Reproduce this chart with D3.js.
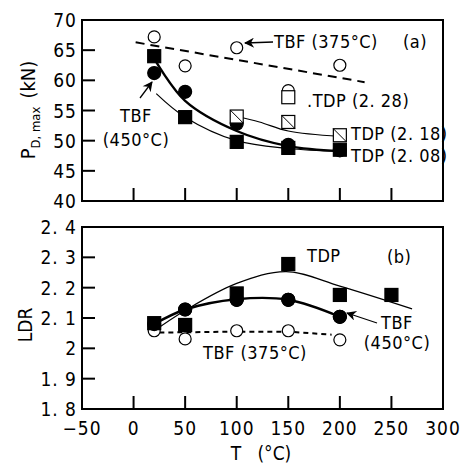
<!doctype html>
<html>
<head>
<meta charset="utf-8">
<title>PD,max and LDR vs T</title>
<script src="https://cdnjs.cloudflare.com/ajax/libs/d3/7.8.5/d3.min.js"></script>
<style>
  body { margin: 0; background: #fff; }
  text { font-family: "Liberation Sans Narrow", "DejaVu Sans Condensed", sans-serif; fill: #000; }
</style>
</head>
<body>
<div id="chart"></div>
<script>
// ---- data: panel (a) P_D,max (kN)
const tA = [20, 50, 100, 150, 200];
const tbf375AT = [20, 50, 100, 200];
const tbf375A = [67.2, 62.4, 65.4, 62.5];           // open circles
const tbf450A = [61.2, 58.1, 52.8, 49.3, 48.4];     // filled circles
const tdp208A = [64.0, 53.9, 49.8, 48.8, 48.5];     // filled squares
const tdp218AT = [100, 150, 200];
const tdp218A = [54.0, 53.1, 50.9];                 // hatched squares
const tdp228AT = [150];
const tdp228A = [57.2];                             // open square
const tdp228cA = [58.3];                            // open circle over it
// fitted curves (a)
const fitTbf375A = [[2, 66.3], [224, 59.7]];
const fitTbf450A = [[20, 63.6], [50, 56.6], [100, 51.6], [150, 49.1], [200, 48.3]];
const fitTdp208A = [[22, 57.8], [50, 53.9], [100, 50.0], [150, 48.7], [200, 48.2]];
const fitTdp218A = [[100, 54.0], [122, 53.1], [150, 51.6], [200, 50.7]];

// ---- data: panel (b) LDR
const tdpBT = [20, 50, 100, 150, 200, 250];
const tdpB = [2.083, 2.077, 2.181, 2.278, 2.176, 2.176];
const tbf450B = [2.08, 2.128, 2.16, 2.16, 2.104];
const tbf375B = [2.058, 2.031, 2.058, 2.058, 2.028];
const fitTdpB = [[20, 2.058], [50, 2.125], [100, 2.214], [148, 2.253], [200, 2.205], [270, 2.13]];
const fitTbf450B = [[20, 2.08], [50, 2.128], [100, 2.162], [150, 2.16], [200, 2.104]];
const fitTbf375B = [[25, 2.052], [100, 2.055], [150, 2.055], [192, 2.045]];

// ---- ticks
const xTicks = [-50, 0, 50, 100, 150, 200, 250, 300];
const yTicksA = [40, 45, 50, 55, 60, 65, 70];
const yTicksB = [1.8, 1.9, 2.0, 2.1, 2.2, 2.3, 2.4];

const W = 465, H = 468;
const svg = d3.select('#chart').append('svg').attr('width', W).attr('height', H);

const x = d3.scaleLinear().domain([-50, 300]).range([82, 443]);
const yA = d3.scaleLinear().domain([40, 70]).range([201, 20]);
const yB = d3.scaleLinear().domain([1.8, 2.4]).range([409, 227]);

const fmtB = d => d === 2 ? '2' : d3.format('.1f')(d).replace('.', '. ');

const defs = svg.append('defs');
defs.append('marker').attr('id', 'arrow').attr('viewBox', '0 0 10 10')
  .attr('refX', 9).attr('refY', 5).attr('markerWidth', 12).attr('markerHeight', 10)
  .attr('markerUnits', 'userSpaceOnUse').attr('orient', 'auto')
  .append('path').attr('d', 'M0,0 L10,5 L0,10 L3,5 Z').attr('fill', '#000');

function panel(y, yTicks, fmt) {
  const g = svg.append('g');
  g.append('rect').attr('x', 82).attr('y', y.range()[1])
    .attr('width', 443 - 82).attr('height', y.range()[0] - y.range()[1])
    .attr('fill', 'none').attr('stroke', '#000').attr('stroke-width', 2);
  // y ticks inside
  g.selectAll('.yt').data(yTicks.slice(1, -1)).join('line')
    .attr('x1', 82).attr('x2', 95).attr('y1', d => y(d)).attr('y2', d => y(d))
    .attr('stroke', '#000').attr('stroke-width', 2);
  g.selectAll('.yl').data(yTicks).join('text')
    .attr('x', 77).attr('y', d => y(d) + 7).attr('text-anchor', 'end')
    .attr('font-size', 19).attr('letter-spacing', 1).text(fmt);
  // x ticks inside
  g.selectAll('.xt').data(xTicks.slice(1, -1)).join('line')
    .attr('x1', d => x(d)).attr('x2', d => x(d))
    .attr('y1', y.range()[0]).attr('y2', y.range()[0] - 13)
    .attr('stroke', '#000').attr('stroke-width', 2);
  return g;
}

const gA = panel(yA, yTicksA, d => d);
const gB = panel(yB, yTicksB, fmtB);

// x tick labels (bottom panel only)
svg.selectAll('.xl').data(xTicks).join('text')
  .attr('x', d => x(d)).attr('y', 435).attr('text-anchor', 'middle')
  .attr('font-size', 19).attr('letter-spacing', 1).text(d => d < 0 ? '\u2212' + (-d) : d);

// helpers
function curve(g, pts, y, opts) {
  const line = d3.line().x(d => x(d[0])).y(d => y(d[1]))
    .curve(opts.straight ? d3.curveLinear : d3.curveCatmullRom.alpha(0.5));
  g.append('path').datum(pts).attr('d', line).attr('fill', 'none')
    .attr('stroke', '#000').attr('stroke-width', opts.w || 1.2)
    .attr('stroke-dasharray', opts.dash || null);
}
function circles(g, ts, vs, y, filled, r) {
  g.selectAll(null).data(ts.map((t, i) => [t, vs[i]])).join('circle')
    .attr('cx', d => x(d[0])).attr('cy', d => y(d[1])).attr('r', r || 6.5)
    .attr('fill', filled ? '#000' : '#fff').attr('stroke', '#000').attr('stroke-width', 1.2);
}
function squares(g, ts, vs, y, kind) {
  const s = 13;
  const sel = g.selectAll(null).data(ts.map((t, i) => [t, vs[i]])).join('g')
    .attr('transform', d => `translate(${x(d[0])},${y(d[1])})`);
  sel.append('rect').attr('x', -s / 2).attr('y', -s / 2).attr('width', s).attr('height', s)
    .attr('fill', kind === 'filled' ? '#000' : '#fff').attr('stroke', '#000').attr('stroke-width', 1.2);
  if (kind === 'hatch') {
    sel.append('line').attr('x1', -s / 2).attr('y1', -s / 2).attr('x2', s / 2).attr('y2', s / 2)
      .attr('stroke', '#000').attr('stroke-width', 1);
  }
}
function label(g, tx, ty, str, anchor) {
  g.append('text').attr('x', tx).attr('y', ty).attr('font-size', 18)
    .attr('text-anchor', anchor || 'start').attr('letter-spacing', 0.5).text(str);
}
function arrow(g, x1, y1, x2, y2) {
  g.append('line').attr('x1', x1).attr('y1', y1).attr('x2', x2).attr('y2', y2)
    .attr('stroke', '#000').attr('stroke-width', 1.3).attr('marker-end', 'url(#arrow)');
}

// ---- panel (a)
curve(gA, fitTbf375A, yA, { straight: true, w: 2, dash: '9,6' });
curve(gA, fitTdp208A, yA, { w: 1.2 });
curve(gA, fitTdp218A, yA, { w: 1.2 });
curve(gA, fitTbf450A, yA, { w: 2.4 });
circles(gA, tbf375AT, tbf375A, yA, false, 6);
// filled circle at 100 sits behind the hatched square
circles(gA, tA.slice(2, 3), tbf450A.slice(2, 3), yA, true);
squares(gA, tdp218AT, tdp218A, yA, 'hatch');
circles(gA, tdp228AT, tdp228cA, yA, false, 6);
squares(gA, tdp228AT, tdp228A, yA, 'open');
squares(gA, tA, tdp208A, yA, 'filled');
circles(gA, tA.filter((t, i) => i !== 2), tbf450A.filter((v, i) => i !== 2), yA, true);

arrow(gA, 273, 42, 245, 43);
label(gA, 274, 48, 'TBF (375\u00b0C)');
label(gA, 403, 48, '(a)');
label(gA, 307, 107, '.TDP (2. 28)');
label(gA, 351, 140, 'TDP (2. 18)');
label(gA, 351, 162, 'TDP (2. 08)');
arrow(gA, 140, 98, 152, 82);
label(gA, 136, 122, 'TBF', 'middle');
label(gA, 136, 146, '(450\u00b0C)', 'middle');

// ---- panel (b)
curve(gB, fitTbf375B, yB, { straight: true, w: 2, dash: '5,4' });
curve(gB, fitTdpB, yB, { w: 1.2 });
curve(gB, fitTbf450B, yB, { w: 2.4 });
circles(gB, tA, tbf375B, yB, false, 6);
circles(gB, tA, tbf450B, yB, true);
squares(gB, tdpBT, tdpB, yB, 'filled');
circles(gB, tA.slice(1), tbf450B.slice(1), yB, true);

label(gB, 307, 262, 'TDP');
label(gB, 387, 263, '(b)');
arrow(gB, 377, 323, 347, 313);
label(gB, 397, 329, 'TBF', 'middle');
label(gB, 397, 349, '(450\u00b0C)', 'middle');
label(gB, 203, 359, 'TBF (375\u00b0C)');

// ---- axis titles
svg.append('text').attr('transform', 'translate(35,110) rotate(-90)')
  .attr('text-anchor', 'middle').attr('font-size', 20)
  .call(t => {
    t.append('tspan').text('P');
    t.append('tspan').attr('font-size', 13).attr('dy', 5).text('D, max');
    t.append('tspan').attr('dy', -5).attr('dx', 8).text('(kN)');
  });
svg.append('text').attr('transform', 'translate(32,325) rotate(-90)')
  .attr('text-anchor', 'middle').attr('font-size', 19).text('LDR');
svg.append('text').attr('x', 261).attr('y', 460).attr('text-anchor', 'middle')
  .attr('font-size', 19).attr('xml:space', 'preserve').text('T   (\u00b0C)');
</script>
</body>
</html>
